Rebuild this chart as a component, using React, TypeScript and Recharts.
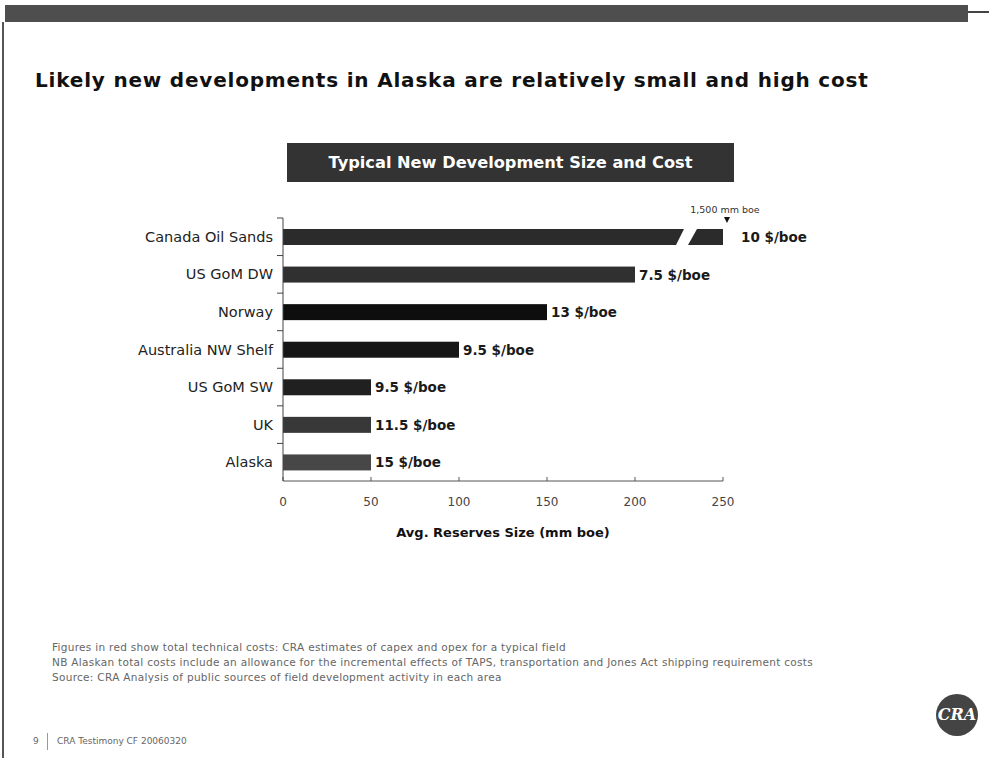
import { Bar, BarChart, Cell, LabelList, XAxis, YAxis } from 'recharts'

const regions = ['Canada Oil Sands', 'US GoM DW', 'Norway', 'Australia NW Shelf', 'US GoM SW', 'UK', 'Alaska']
const reservesMmboe = [1500, 200, 150, 100, 50, 50, 50]
const costPerBoe = [10, 7.5, 13, 9.5, 9.5, 11.5, 15]
const xTicks = [0, 50, 100, 150, 200, 250]
const AXIS_MAX = 250

const footnotes = [
  'Figures in red show total technical costs: CRA estimates of capex and opex for a typical field',
  'NB Alaskan total costs include an allowance for the incremental effects of TAPS, transportation and Jones Act shipping requirement costs',
  'Source: CRA Analysis of public sources of field development activity in each area',
]

const barFills = ['#2b2b2b', '#303030', '#0e0e0e', '#161616', '#202020', '#383838', '#474747']

// bars past the axis max are drawn broken at the max, with the real size written above
const data = regions.map((region, i) => ({
  region,
  size: reservesMmboe[i],
  shown: Math.min(reservesMmboe[i], AXIS_MAX),
  cost: `${costPerBoe[i]} $/boe`,
  broken: reservesMmboe[i] > AXIS_MAX,
}))

const FONT = '"DejaVu Sans", "Liberation Sans", sans-serif'

function BrokenBar(props: any) {
  const { x, y, width, height, fill, payload } = props
  if (!payload?.broken) return <rect x={x} y={y} width={width} height={height} fill={fill} />
  const end = x + width
  const b = y + height
  return (
    <g>
      <polygon points={`${x},${y} ${end - 39},${y} ${end - 47},${b} ${x},${b}`} fill={fill} />
      <polygon points={`${end - 26},${y} ${end},${y} ${end},${b} ${end - 35},${b}`} fill={fill} />
      <polygon points={`${end + 1},${y - 12} ${end + 7},${y - 12} ${end + 4},${y - 6}`} fill="#111" />
      <text x={end + 2} y={y - 16} textAnchor="middle" fontSize={9.5} fill="#333" fontFamily={FONT}>
        {payload.size.toLocaleString('en-US')} mm boe
      </text>
    </g>
  )
}

function CostLabel(props: any) {
  const { x, y, width, height, value, index } = props
  const extra = data[index]?.broken ? 18 : 4
  return (
    <text
      x={x + width + extra}
      y={y + height / 2}
      dominantBaseline="central"
      fontSize={13.5}
      fontWeight={700}
      fill="#1a1a1a"
      fontFamily={FONT}
    >
      {value}
    </text>
  )
}

// small marks on the category axis, between the bands
function BandTick(props: any) {
  const { x, y, payload } = props
  return (
    <g>
      <line x1={x + 4} x2={x + 10} y1={y - 18.8} y2={y - 18.8} stroke="#444" />
      <text x={x} y={y} textAnchor="end" dominantBaseline="central" fontSize={14.5} fill="#222" fontFamily={FONT}>
        {payload.value}
      </text>
    </g>
  )
}

export default function App() {
  return (
    <div
      style={{
        position: 'absolute',
        left: 0,
        top: 0,
        width: 989,
        height: 758,
        background: '#fff',
        overflow: 'hidden',
        fontFamily: FONT,
      }}
    >
      <div style={{ position: 'absolute', left: 5, top: 5, width: 963, height: 17, background: '#4e4e4e' }} />
      <div style={{ position: 'absolute', left: 968, top: 11, width: 21, height: 2, background: '#444' }} />
      <div style={{ position: 'absolute', left: 2, top: 22, width: 2, height: 736, background: '#555' }} />

      <div
        style={{
          position: 'absolute',
          left: 35,
          top: 69,
          fontSize: 20,
          letterSpacing: 0.8,
          lineHeight: '22px',
          fontWeight: 700,
          color: '#111',
          whiteSpace: 'nowrap',
        }}
      >
        Likely new developments in Alaska are relatively small and high cost
      </div>

      <div
        style={{
          position: 'absolute',
          left: 287,
          top: 143,
          width: 447,
          height: 39,
          background: '#333',
          color: '#fff',
          fontSize: 16.2,
          fontWeight: 700,
          lineHeight: '39px',
          textAlign: 'center',
          whiteSpace: 'nowrap',
        }}
      >
        Typical New Development Size and Cost
      </div>

      <div style={{ position: 'absolute', left: 0, top: 0 }}>
        <BarChart
          width={989}
          height={758}
          data={data}
          layout="vertical"
          margin={{ top: 218, right: 266, bottom: 217, left: 83 }}
        >
          <XAxis
            type="number"
            dataKey="shown"
            domain={[0, AXIS_MAX]}
            ticks={xTicks}
            height={60}
            stroke="#555"
            tickSize={-4}
            tickMargin={20}
            tick={{ fill: '#444', fontSize: 12, fontFamily: FONT }}
            label={{
              value: 'Avg. Reserves Size (mm boe)',
              position: 'insideBottom',
              offset: 4,
              fill: '#111',
              fontSize: 13,
              fontWeight: 700,
              fontFamily: FONT,
            }}
          />
          <YAxis
            type="category"
            dataKey="region"
            width={200}
            stroke="#444"
            tickLine={false}
            tickMargin={4}
            tick={<BandTick />}
          />
          <Bar dataKey="shown" barSize={16} shape={<BrokenBar />} isAnimationActive={false}>
            {data.map((d, i) => (
              <Cell key={d.region} fill={barFills[i]} />
            ))}
            <LabelList dataKey="cost" content={<CostLabel />} />
          </Bar>
        </BarChart>
      </div>

      {footnotes.map((t, i) => (
        <div
          key={i}
          style={{
            position: 'absolute',
            left: 52,
            top: 641 + i * 15,
            fontSize: 10.5,
            letterSpacing: 0.3,
            lineHeight: '12px',
            color: '#666',
            whiteSpace: 'nowrap',
          }}
        >
          {t}
        </div>
      ))}

      <div style={{ position: 'absolute', left: 33, top: 736, fontSize: 9, color: '#666' }}>9</div>
      <div style={{ position: 'absolute', left: 47, top: 733, width: 1, height: 17, background: '#999' }} />
      <div style={{ position: 'absolute', left: 57, top: 736, fontSize: 9, color: '#666', whiteSpace: 'nowrap' }}>
        CRA Testimony CF 20060320
      </div>

      <div
        style={{
          position: 'absolute',
          left: 936,
          top: 694,
          width: 42,
          height: 42,
          borderRadius: '50%',
          background: '#444',
          color: '#fff',
          fontFamily: '"DejaVu Serif", "Liberation Serif", serif',
          fontStyle: 'italic',
          fontWeight: 700,
          fontSize: 16,
          lineHeight: '42px',
          textAlign: 'center',
        }}
      >
        CRA
      </div>
    </div>
  )
}
